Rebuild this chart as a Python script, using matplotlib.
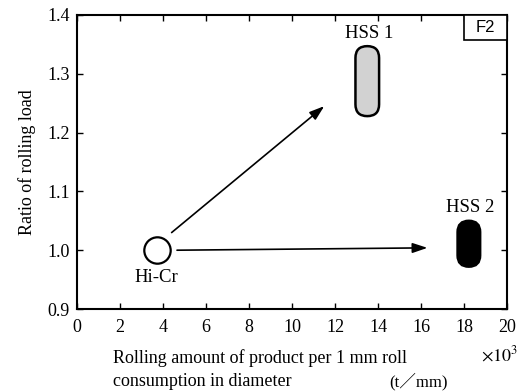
import numpy as np
from matplotlib import pyplot as plt
from matplotlib.patches import FancyBboxPatch, Rectangle

plt.rcParams['font.family'] = ['Liberation Serif', 'DejaVu Serif']
plt.rcParams['mathtext.fontset'] = 'stix'

# data (x in 10^3 t/mm, y = ratio of rolling load)
hicr_x, hicr_y = 3.7, 1.0
hss1_x = [12.95, 14.05]
hss1_y = [1.228, 1.347]
hss2_x = [17.7, 18.75]
hss2_y = [0.972, 1.05]
arrow1 = [(4.4, 1.03), (11.5, 1.245)]
arrow2 = [(4.65, 1.0), (16.3, 1.004)]
labels = {'Hi-Cr': (3.7, 0.953), 'HSS 1': (13.6, 1.368), 'HSS 2': (18.3, 1.072)}
xticks = np.arange(0, 21, 2)
yticks = [0.9, 1.0, 1.1, 1.2, 1.3, 1.4]

fig = plt.figure(figsize=(5.24, 3.91), dpi=100)
ax = fig.add_axes([0.147, 0.2097, 0.8206, 0.752])
ax.set_xlim(0, 20)
ax.set_ylim(0.9, 1.4)
ax.set_xticks(xticks)
ax.set_yticks(yticks)
ax.set_yticklabels(['%.1f' % v for v in yticks])
ax.tick_params(direction='in', top=True, right=True, length=4, width=1,
               labelsize=13, pad=5)
ax.tick_params(axis='x', pad=7)
for s in ax.spines.values():
  s.set_linewidth(1.5)

# aspect so rounded corners stay round in pixels
asp = (0.5 / (0.752 * 391)) / (20 / (0.8206 * 524))

def pill(xr, yr, fc):
  p = FancyBboxPatch((xr[0], yr[0]), xr[1] - xr[0], yr[1] - yr[0],
                     boxstyle='round,pad=0,rounding_size=%f' % ((xr[1] - xr[0]) / 2),
                     mutation_aspect=asp, fc=fc, ec='black', lw=1.8, zorder=3)
  ax.add_patch(p)

pill(hss1_x, hss1_y, '#d2d2d2')
pill(hss2_x, hss2_y, 'black')

ax.plot([hicr_x], [hicr_y], 'o', ms=19, mfc='white', mec='black', mew=1.6, zorder=3)

for a in (arrow1, arrow2):
  ax.annotate('', xy=a[1], xytext=a[0],
              arrowprops=dict(arrowstyle='-|>,head_length=0.9,head_width=0.3',
                              color='black', lw=1.2, shrinkA=0, shrinkB=0))

for t, (x, y) in labels.items():
  ax.text(x, y, t, ha='center', va='center', fontsize=13.5)

ax.add_patch(Rectangle((0.9, 0.915), 0.1, 0.085, transform=ax.transAxes,
                       fc='white', ec='black', lw=1.2, zorder=4))
ax.text(0.95, 0.957, 'F2', transform=ax.transAxes, ha='center', va='center',
        fontsize=12, family=['Liberation Sans', 'DejaVu Sans'], zorder=5)

ax.set_ylabel('Ratio of rolling load', fontsize=13, labelpad=8)

fig.text(0.216, 0.085, 'Rolling amount of product per 1 mm roll', fontsize=13,
         va='center', ha='left')
fig.text(0.216, 0.024, 'consumption in diameter', fontsize=13, va='center', ha='left')
fig.text(0.798, 0.024, '(t\uff0fmm)', fontsize=12, va='center', ha='center',
         family=['Liberation Serif', 'Noto Sans CJK JP'])
fig.text(0.954, 0.092, r'$\times10^3$', fontsize=13, va='center', ha='center')

plt.savefig('out.png', dpi=100)
